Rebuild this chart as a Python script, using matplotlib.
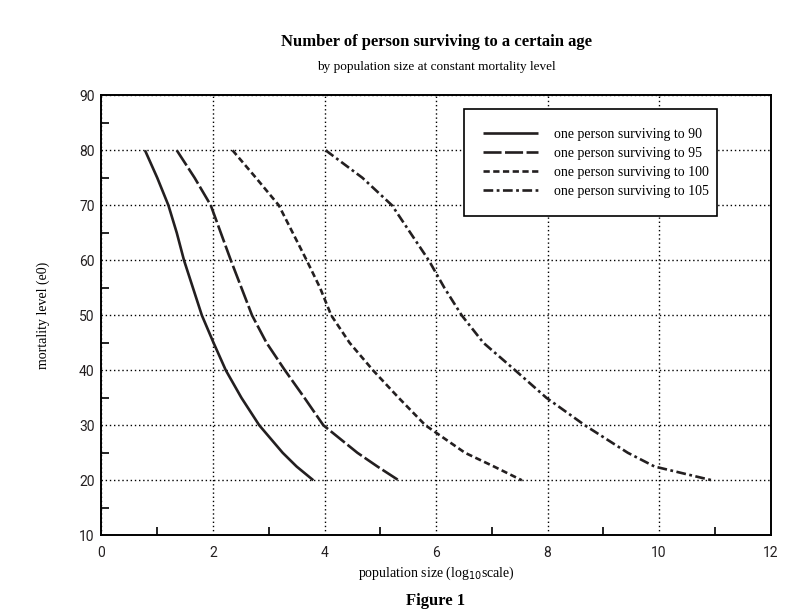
import matplotlib
matplotlib.use("Agg")
import matplotlib.pyplot as plt
from matplotlib.ticker import MultipleLocator

SERIF = ["Liberation Serif", "DejaVu Serif"]
TICKFONT = ["Roboto", "DejaVu Sans"]

# mortality level e0 (y) and log10 population size (x) for each curve
e0_levels = [80, 75, 70, 65, 60, 55, 50, 45, 40, 35, 30, 25, 22.5, 20]
size_90 = [0.78, 1.00, 1.20, 1.35, 1.48, 1.64, 1.80, 2.01, 2.23, 2.51, 2.83, 3.25, 3.50, 3.80]
size_95 = [1.35, 1.67, 1.96, 2.14, 2.32, 2.51, 2.70, 2.96, 3.29, 3.64, 3.98, 4.59, 4.95, 5.33]
size_100 = [2.35, 2.77, 3.18, 3.43, 3.68, 3.92, 4.12, 4.45, 4.87, 5.33, 5.81, 6.52, 7.04, 7.54]
size_105 = [4.02, 4.68, 5.21, 5.54, 5.87, 6.15, 6.46, 6.85, 7.42, 7.98, 8.67, 9.44, 9.92, 10.95]

labels = ["one person surviving to 90", "one person surviving to 95",
          "one person surviving to 100", "one person surviving to 105"]

plt.rcParams["lines.scale_dashes"] = False
styles = ["-", (0, (13, 2.5)), (0, (4.5, 2.5)), (0, (7, 2.5, 2, 2.5))]

fig = plt.figure(figsize=(7.96, 6.14), dpi=100)
ax = fig.add_axes([0.1275, 0.1282, 0.8405, 0.7166])

for xs, ls, lab in zip([size_90, size_95, size_100, size_105], styles, labels):
    ax.plot(xs, e0_levels, color="#231f20", lw=1.9, linestyle=ls, label=lab,
            solid_capstyle="butt", dash_capstyle="butt", solid_joinstyle="round")

ax.set_xlim(0, 12)
ax.set_ylim(10, 90)
ax.xaxis.set_major_locator(MultipleLocator(2))
ax.xaxis.set_minor_locator(MultipleLocator(1))
ax.yaxis.set_major_locator(MultipleLocator(10))
ax.yaxis.set_minor_locator(MultipleLocator(5))
ax.tick_params(which="both", direction="in", color="black")
ax.tick_params(which="major", length=0)
ax.tick_params(which="minor", length=6, width=1.2)
ax.tick_params(axis="x", pad=8)
ax.tick_params(axis="y", pad=5)
for t in ax.get_xticklabels() + ax.get_yticklabels():
    t.set_family(TICKFONT)
    t.set_fontsize(10)
    t.set_color("#231f20")
ax.grid(True, which="major", color="black", linestyle=(0, (1, 2)), lw=1.0)
for s in ax.spines.values():
    s.set_linewidth(1.4)

ax.set_xlabel(r"population size (log$_{10}$scale)", family=SERIF, fontsize=10, labelpad=3)
ax.set_ylabel("mortality level (e0)", family=SERIF, fontsize=10, labelpad=21)

leg = ax.legend(loc="upper left", bbox_to_anchor=(0.542, 0.728, 0.378, 0.24), mode="expand",
                prop={"family": SERIF, "size": 10},
                frameon=True, fancybox=False, framealpha=1, borderpad=1.35, labelspacing=0.42,
                handlelength=4.0, handletextpad=1.1, borderaxespad=0)
leg.get_frame().set_edgecolor("black")
leg.get_frame().set_linewidth(1.2)

cx = 0.1275 + 0.8405 / 2
fig.text(cx, 1 - 42 / 614, "Number of person surviving to a certain age", ha="center", va="center",
         family=SERIF, fontsize=12, weight="bold")
fig.text(cx, 1 - 67 / 614, "by population size at constant mortality level", ha="center", va="center",
         family=SERIF, fontsize=9.5)
fig.text(cx, 1 - 601 / 614, "Figure 1", ha="center", va="center", family=SERIF, fontsize=12, weight="bold")

fig.savefig("out.png", dpi=100)
